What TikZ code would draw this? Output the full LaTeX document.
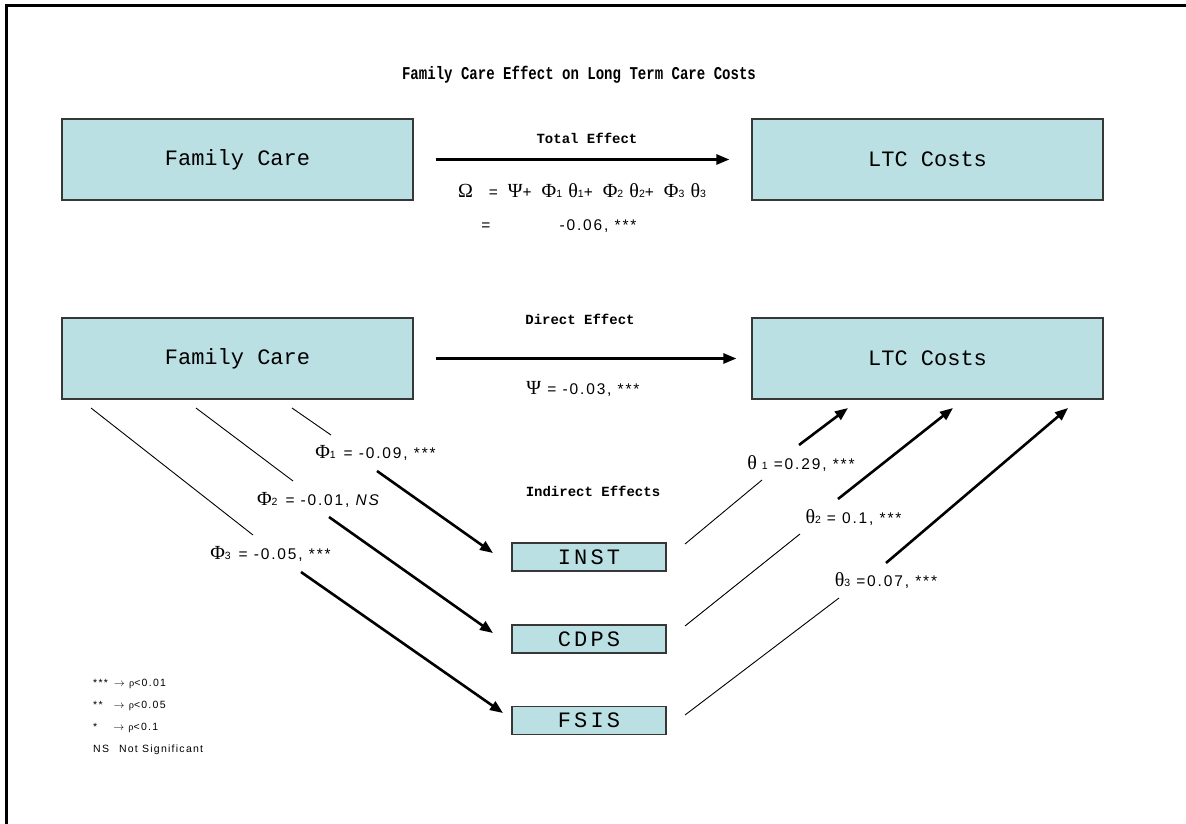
\documentclass[tikz,border=0pt]{standalone}
\usepackage{fontspec}
\setmainfont{Liberation Sans}
\newfontfamily\boxfont{Liberation Mono}
\newfontfamily\sboxfont[LetterSpace=14]{Liberation Mono}
\newfontfamily\labfont[LetterSpace=12]{Liberation Sans}
\newfontfamily\grkfont{Liberation Serif}
\usetikzlibrary{arrows.meta}
\definecolor{boxfill}{RGB}{187,224,227}
\definecolor{boxline}{RGB}{55,55,55}
\newcommand\gk[1]{{\grkfont\fontsize{20}{20}\selectfont #1}}
\newcommand\sbs[1]{{\labfont\fontsize{10.5}{10.5}\selectfont #1}}
\begin{document}
\begin{tikzpicture}[x=1pt,y=-1pt,
  bigbox/.style={draw=boxline, line width=1.2pt, fill=boxfill, minimum width=351pt, minimum height=81pt, inner sep=0pt, font=\boxfont\fontsize{22}{22}\selectfont},
  smallbox/.style={draw=boxline, line width=1.2pt, fill=boxfill, minimum width=154pt, minimum height=28pt, inner sep=0pt, font=\sboxfont\fontsize{22}{22}\selectfont},
  seg/.style={line width=0.9pt},
  arr/.style={line width=2.6pt, -{Triangle[length=13pt,width=10pt]}},
  lab/.style={inner sep=0pt, font=\labfont\fontsize{15.5}{15.5}\selectfont},
  leg/.style={inner sep=0pt, anchor=west, font=\labfont\fontsize{10.5}{10.5}\selectfont},
  head/.style={inner sep=0pt, font=\boxfont\bfseries\fontsize{14}{14}\selectfont},
  frame/.style={line width=3pt},
]
\useasboundingbox (0,0) rectangle (1186,824);
% frame
\coordinate (fa) at (5,5.5);
\coordinate (fb) at (1186,5.5);
\coordinate (fc) at (6.5,4);
\coordinate (fd) at (6.5,824);
\draw[frame] (fa) -- (fb);
\draw[frame] (fc) -- (fd);

% title
\node[head, font=\boxfont\bfseries\fontsize{18}{18}\selectfont] (title) at (579,75) {\scalebox{0.78}[1]{Family Care Effect on Long Term Care Costs}};

% boxes
\node[bigbox] (fc1) at (237.5,159.5) {Family Care};
\node[bigbox] (ltc1) at (927.5,159.5) {LTC Costs};
\node[bigbox] (fc2) at (237.5,358.5) {Family Care};
\node[bigbox] (ltc2) at (927.5,358.5) {LTC Costs};
\node[smallbox] (inst) at (589,557) {INST};
\node[smallbox] (cdps) at (589,639) {CDPS};
\node[smallbox] (fsis) at (589,720.5) {FSIS};

% total effect
\node[head] (tot) at (587,138) {Total Effect};
\draw[arr] ([xshift=22pt]fc1.east) -- ([xshift=-22pt]ltc1.west);
\node[lab] (omega) at (582,191) {\gk{Ω}\hspace{16pt}=\hspace{10pt}\gk{Ψ}+\hspace{10pt}\gk{Φ}\sbs{1} \gk{θ}\sbs{1}+\hspace{10pt}\gk{Φ}\sbs{2} \gk{θ}\sbs{2}+\hspace{10pt}\gk{Φ}\sbs{3} \gk{θ}\sbs{3}};
\node[lab] (eq2) at (486,227) {=};
\node[lab] (val) at (598,226) {-0.06, ***};

% direct effect
\node[head] (dir) at (580,319) {Direct Effect};
\draw[arr] ([xshift=22pt]fc2.east) -- ([xshift=-15pt]ltc2.west);
\node[lab] (psi) at (583,389) {\gk{Ψ} = -0.03, ***};

\node[head] (ind) at (593,491) {Indirect Effects};

% indirect: left side
\coordinate (a1) at (292,408); \coordinate (a2) at (331,435); \coordinate (a3) at (377,471); \coordinate (a4) at (493,553);
\coordinate (b1) at (196,408); \coordinate (b2) at (293,481); \coordinate (b3) at (329,517); \coordinate (b4) at (493,633);
\coordinate (c1) at (91,408);  \coordinate (c2) at (253,535); \coordinate (c3) at (301,572); \coordinate (c4) at (503,713);
\draw[seg] (a1) -- (a2); \draw[arr] (a3) -- (a4);
\draw[seg] (b1) -- (b2); \draw[arr] (b3) -- (b4);
\draw[seg] (c1) -- (c2); \draw[arr] (c3) -- (c4);
\node[lab] (phi1) at (375.5,453) {\gk{Φ}\sbs{1}\hspace{8pt}=\hspace{6pt}-0.09, ***};
\node[lab] (phi2) at (319,500) {\gk{Φ}\sbs{2}\hspace{8pt}=\hspace{6pt}-0.01, \textit{NS}};
\node[lab] (phi3) at (270.5,554) {\gk{Φ}\sbs{3}\hspace{8pt}=\hspace{6pt}-0.05, ***};

% indirect: right side
\coordinate (d1) at (685,544); \coordinate (d2) at (762,480); \coordinate (d3) at (799,445); \coordinate (d4) at (848,408);
\coordinate (e1) at (685,626); \coordinate (e2) at (800,534); \coordinate (e3) at (838,499); \coordinate (e4) at (953,408);
\coordinate (g1) at (685,715); \coordinate (g2) at (839,598); \coordinate (g3) at (886,563); \coordinate (g4) at (1068,408);
\draw[seg] (d1) -- (d2); \draw[arr] (d3) -- (d4);
\draw[seg] (e1) -- (e2); \draw[arr] (e3) -- (e4);
\draw[seg] (g1) -- (g2); \draw[arr] (g3) -- (g4);
\node[lab] (th1) at (801,463) {\gk{θ}\hspace{5pt}\sbs{1}\hspace{6pt}=0.29, ***};
\node[lab] (th2) at (853.5,517) {\gk{θ}\sbs{2}\hspace{6pt}=\hspace{6pt}0.1, ***};
\node[lab] (th3) at (886,580) {\gk{θ}\sbs{3}\hspace{6pt}=0.07, ***};

% legend
\node[leg] (l1) at (93,684) {***\hspace{6pt}$\rightarrow$ {\grkfont ρ}<0.01};
\node[leg] (l2) at (93,706) {**\hspace{11pt}$\rightarrow$ {\grkfont ρ}<0.05};
\node[leg] (l3) at (93,728) {*\hspace{16pt}$\rightarrow$ {\grkfont ρ}<0.1};
\node[leg] (l4) at (93,750) {NS\hspace{10pt}Not Significant};
\end{tikzpicture}
\end{document}
